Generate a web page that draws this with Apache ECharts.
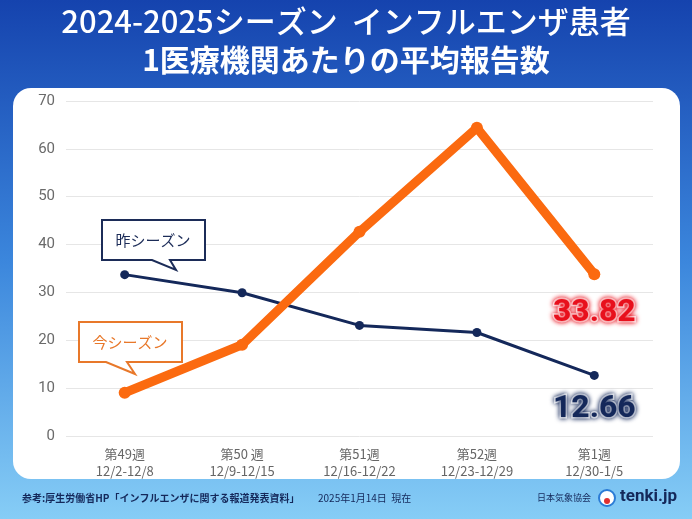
<!DOCTYPE html>
<html><head><meta charset="utf-8">
<script src="https://cdn.jsdelivr.net/npm/echarts@6/dist/echarts.min.js"></script>
<style>html,body{margin:0;padding:0;}#c{width:692px;height:519px;}</style>
</head><body><div id="c"></div>
<script>
const weeks = ['第49週', '第50 週', '第51週', '第52週', '第1週'];
const dates = ['12/2-12/8', '12/9-12/15', '12/16-12/22', '12/23-12/29', '12/30-1/5'];
const thisSeason = [9.03, 19.06, 42.66, 64.39, 33.82];
const lastSeason = [33.72, 29.94, 23.11, 21.62, 12.66];
const yTicks = [0, 10, 20, 30, 40, 50, 60, 70];

const categories = weeks.map((w, i) => w + '\n' + dates[i]);
const F = '"Noto Sans CJK JP", "Noto Sans", sans-serif';

function lastLabel(arr, color, dist) {
  return arr.map((v, i) => i === arr.length - 1 ? {
    value: v,
    label: {
      show: true, position: 'bottom', distance: dist,
      formatter: v.toFixed(2),
      fontSize: 32, fontWeight: 'bold', fontFamily: 'Roboto, "Noto Sans", sans-serif',
      color: color, textBorderColor: '#fff', textBorderWidth: 3,
      textShadowColor: color, textShadowBlur: 5
    }
  } : v);
}

const chart = echarts.init(document.getElementById('c'));
chart.setOption({
  backgroundColor: {
    type: 'linear', x: 0, y: 0, x2: 0, y2: 1,
    colorStops: [{offset: 0, color: '#1543ae'}, {offset: 0.5, color: '#3b86dc'}, {offset: 1, color: '#86cdf6'}]
  },
  graphic: [
    {type: 'rect', shape: {x: 13, y: 88, width: 667, height: 391, r: 18}, style: {fill: '#fff'}, z: -10},
    {type: 'text', left: 'center', top: 6, style: {text: '2024-2025シーズン  インフルエンザ患者', fill: '#fff', fontSize: 31, fontWeight: 500, fontFamily: F}},
    {type: 'text', left: 'center', top: 45, style: {text: '1医療機関あたりの平均報告数', fill: '#fff', fontSize: 30, fontWeight: 'bold', fontFamily: F}},
    // last season callout
    {type: 'polygon', shape: {points: [[102,220],[205,220],[205,260],[170,260],[176,270],[152,260],[102,260]]}, style: {fill: '#fff', stroke: '#1c2c58', lineWidth: 2}, z: 10},
    {type: 'text', x: 153, y: 240, style: {text: '昨シーズン', fill: '#1c2c58', fontSize: 15, fontFamily: F, align: 'center', verticalAlign: 'middle'}, z: 11},
    // this season callout
    {type: 'polygon', shape: {points: [[79,322],[182,322],[182,362],[127,362],[135,374],[106,362],[79,362]]}, style: {fill: '#fff', stroke: '#e8782a', lineWidth: 2}, z: 10},
    {type: 'text', x: 130, y: 342, style: {text: '今シーズン', fill: '#e8782a', fontSize: 15, fontFamily: F, align: 'center', verticalAlign: 'middle'}, z: 11},
    // footer
    {type: 'text', x: 22, y: 498, style: {text: '参考:厚生労働省HP「インフルエンザに関する報道発表資料」', fill: '#14285a', fontSize: 10, fontWeight: 'bold', fontFamily: F, verticalAlign: 'middle'}},
    {type: 'text', x: 318, y: 498, style: {text: '2025年1月14日  現在', fill: '#14285a', fontSize: 10, fontFamily: F, verticalAlign: 'middle'}},
    {type: 'text', x: 591, y: 498, style: {text: '日本気象協会', fill: '#14285a', fontSize: 9, fontFamily: F, verticalAlign: 'middle', align: 'right'}},
    {type: 'circle', shape: {cx: 607, cy: 498, r: 8}, style: {fill: '#fff', stroke: '#2a7bd6', lineWidth: 2}},
    {type: 'circle', shape: {cx: 607, cy: 501, r: 3}, style: {fill: '#e03030'}},
    {type: 'text', x: 620, y: 497, style: {text: 'tenki.jp', fill: '#14285a', fontSize: 17, fontWeight: 'bold', fontFamily: 'Roboto, sans-serif', verticalAlign: 'middle'}}
  ],
  grid: {left: 66, right: 39, top: 101, bottom: 83},
  xAxis: {
    type: 'category', data: categories, boundaryGap: true,
    axisLine: {show: false}, axisTick: {show: false},
    axisLabel: {color: '#666', fontSize: 13, lineHeight: 17, margin: 10, fontFamily: F}
  },
  yAxis: {
    type: 'value', min: 0, max: 70, interval: 10,
    axisLabel: {color: '#6a6a6a', fontSize: 15, margin: 11, fontFamily: 'Roboto, sans-serif',
      formatter: v => yTicks.includes(v) ? String(v) : ''},
    splitLine: {lineStyle: {color: '#e6e6e6', width: 1}},
    axisLine: {show: false}, axisTick: {show: false}
  },
  series: [
    {
      name: '昨シーズン', type: 'line', data: lastLabel(lastSeason, '#14285a', 13),
      symbol: 'circle', symbolSize: 9,
      lineStyle: {color: '#14285a', width: 3}, itemStyle: {color: '#14285a'}, z: 3
    },
    {
      name: '今シーズン', type: 'line', data: lastLabel(thisSeason, '#e8101c', 17),
      symbol: 'circle', symbolSize: 12,
      lineStyle: {color: '#fb6a10', width: 9}, itemStyle: {color: '#fb6a10'}, z: 4
    }
  ],
  animation: false
});
</script></body></html>
